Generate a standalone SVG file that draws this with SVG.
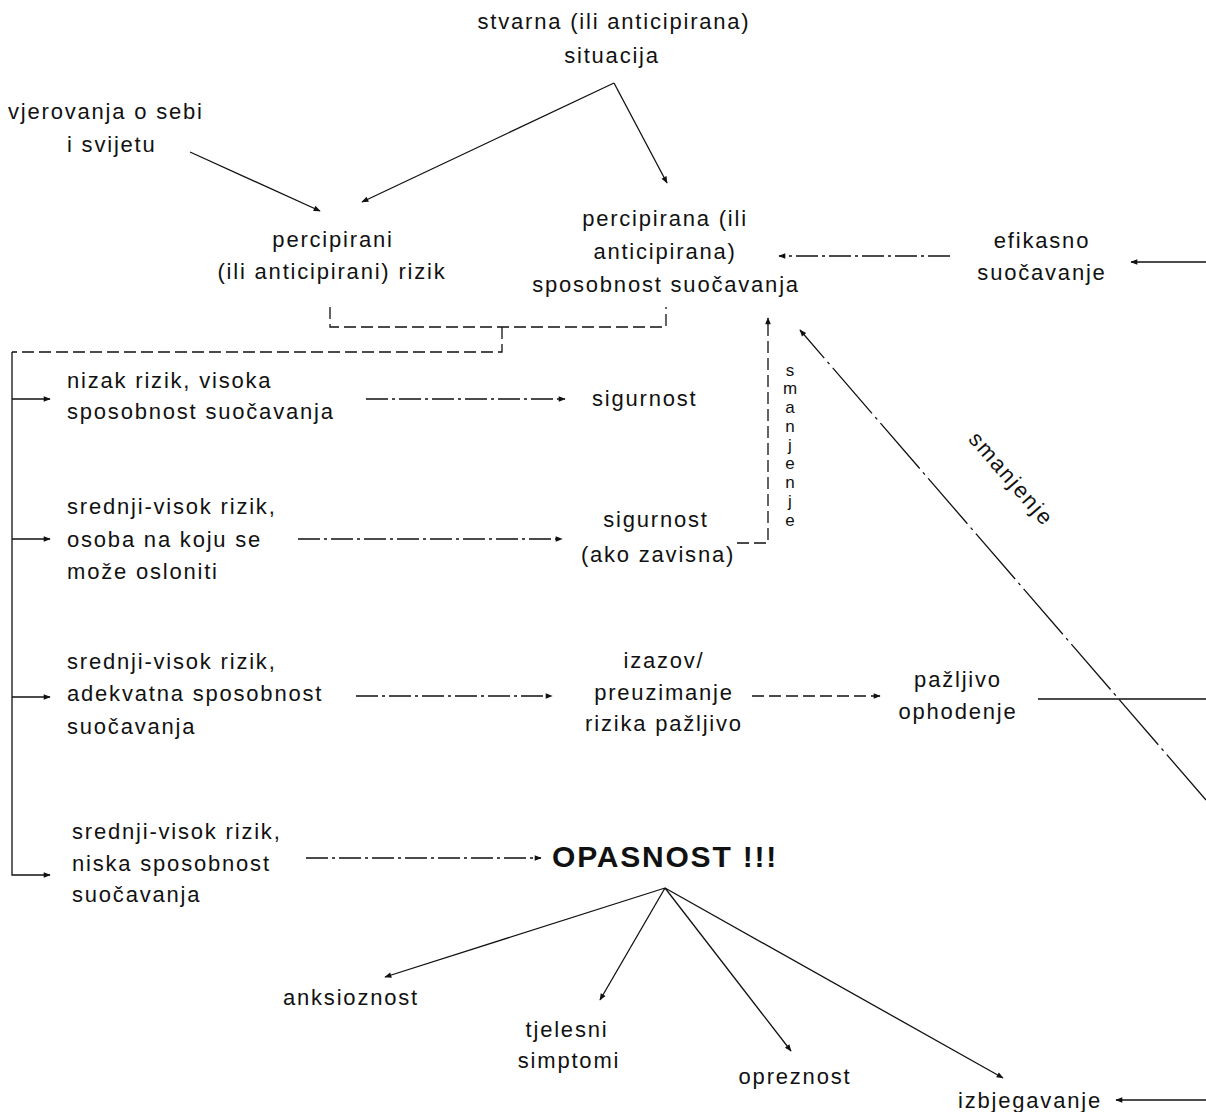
<svg xmlns="http://www.w3.org/2000/svg" width="1206" height="1112" viewBox="0 0 1206 1112">
<style>
text{font-family:"Liberation Sans",Arial,sans-serif;font-size:22px;fill:#111;letter-spacing:1.8px}
.m{text-anchor:middle}
.b{font-weight:bold;font-size:30px;letter-spacing:1.8px}
.ln{fill:none;stroke:#111;stroke-width:1.3}
.dd{stroke-dasharray:22 4 3 4}
.dg{stroke-dasharray:60 5 3 5}
.ds{stroke-dasharray:12 5}
.v{font-size:17px;text-anchor:middle;letter-spacing:0}
</style>
<defs>
<marker id="ah" viewBox="0 0 10 10" refX="9" refY="5" markerWidth="8" markerHeight="7" markerUnits="userSpaceOnUse" orient="auto"><path d="M0,1 L10,5 L0,9 z" fill="#111"/></marker>
</defs>
<rect width="1206" height="1112" fill="#fff"/>
<g id="connectors">
<path class="ln" d="M190,152 L320,211" marker-end="url(#ah)"/>
<path class="ln" d="M614,83 L362,202" marker-end="url(#ah)"/>
<path class="ln" d="M614,83 L667,183" marker-end="url(#ah)"/>
<path class="ln dd" d="M950,256 L779,256" marker-end="url(#ah)"/>
<path class="ln" d="M1206,262 L1131,262" marker-end="url(#ah)"/>
<path class="ln ds" d="M330,307 V327 H666 V307"/>
<path class="ln ds" d="M502,327 V352 H12"/>
<path class="ln" d="M12,352 V875 H50" marker-end="url(#ah)"/>
<path class="ln" d="M12,399 H50" marker-end="url(#ah)"/>
<path class="ln" d="M12,539 H50" marker-end="url(#ah)"/>
<path class="ln" d="M12,697 H50" marker-end="url(#ah)"/>
<path class="ln dd" d="M366,399 H565" marker-end="url(#ah)"/>
<path class="ln dd" d="M298,539 H562" marker-end="url(#ah)"/>
<path class="ln ds" d="M737,543 H768 V318" marker-end="url(#ah)"/>
<path class="ln dd" d="M356,696 H552" marker-end="url(#ah)"/>
<path class="ln ds" d="M752,696 H880" marker-end="url(#ah)"/>
<path class="ln" d="M1038,699 H1206"/>
<path class="ln dd" d="M306,858 H541" marker-end="url(#ah)"/>
<path class="ln dg" d="M1206,800 L800,330" marker-end="url(#ah)"/>
<path class="ln" d="M665,888 L385,977" marker-end="url(#ah)"/>
<path class="ln" d="M665,888 L600,1000" marker-end="url(#ah)"/>
<path class="ln" d="M665,888 L791,1051" marker-end="url(#ah)"/>
<path class="ln" d="M665,888 L1003,1078" marker-end="url(#ah)"/>
<path class="ln" d="M1206,1100 H1116" marker-end="url(#ah)"/>
</g>
<g id="situacija"><text class="m" x="614" y="29">stvarna (ili anticipirana)</text><text class="m" x="612" y="63">situacija</text></g>
<g id="vjerovanja"><text x="8" y="119">vjerovanja o sebi</text><text x="67" y="152">i svijetu</text></g>
<g id="rizik"><text class="m" x="333" y="247">percipirani</text><text class="m" x="332" y="279">(ili anticipirani) rizik</text></g>
<g id="sposobnost"><text class="m" x="665" y="226">percipirana (ili</text><text class="m" x="665" y="259">anticipirana)</text><text class="m" x="666" y="292">sposobnost suočavanja</text></g>
<g id="efikasno"><text class="m" x="1042" y="248">efikasno</text><text class="m" x="1042" y="280">suočavanje</text></g>
<g id="nizak"><text x="67" y="388">nizak rizik, visoka</text><text x="67" y="419">sposobnost suočavanja</text></g>
<g id="sigurnost1"><text x="592" y="406">sigurnost</text></g>
<g id="osoba"><text x="67" y="514">srednji-visok rizik,</text><text x="67" y="547">osoba na koju se</text><text x="67" y="579">može osloniti</text></g>
<g id="sigurnost2"><text class="m" x="656" y="527">sigurnost</text><text class="m" x="658" y="562">(ako zavisna)</text></g>
<g id="smanjenje1"><text class="v" x="790" y="376">s</text><text class="v" x="790" y="394">m</text><text class="v" x="790" y="413">a</text><text class="v" x="790" y="432">n</text><text class="v" x="790" y="451">j</text><text class="v" x="790" y="469">e</text><text class="v" x="790" y="488">n</text><text class="v" x="790" y="507">j</text><text class="v" x="790" y="526">e</text></g>
<g id="adekvatna"><text x="67" y="669">srednji-visok rizik,</text><text x="67" y="701">adekvatna sposobnost</text><text x="67" y="734">suočavanja</text></g>
<g id="izazov"><text class="m" x="664" y="668">izazov/</text><text class="m" x="664" y="700">preuzimanje</text><text class="m" x="664" y="731">rizika pažljivo</text></g>
<g id="ophodenje"><text class="m" x="958" y="687">pažljivo</text><text class="m" x="958" y="719">ophodenje</text></g>
<g id="niska"><text x="72" y="839">srednji-visok rizik,</text><text x="72" y="871">niska sposobnost</text><text x="72" y="902">suočavanja</text></g>
<g id="opasnost"><text class="b" x="552" y="867">OPASNOST !!!</text></g>
<g id="smanjenje2"><text class="m" transform="translate(1011,479) rotate(49)" x="0" y="7">smanjenje</text></g>
<g id="anksioznost"><text class="m" x="351" y="1005">anksioznost</text></g>
<g id="tjelesni"><text class="m" x="567" y="1037">tjelesni</text><text class="m" x="569" y="1068">simptomi</text></g>
<g id="opreznost"><text class="m" x="795" y="1084">opreznost</text></g>
<g id="izbjegavanje"><text class="m" x="1030" y="1108">izbjegavanje</text></g>
</svg>
